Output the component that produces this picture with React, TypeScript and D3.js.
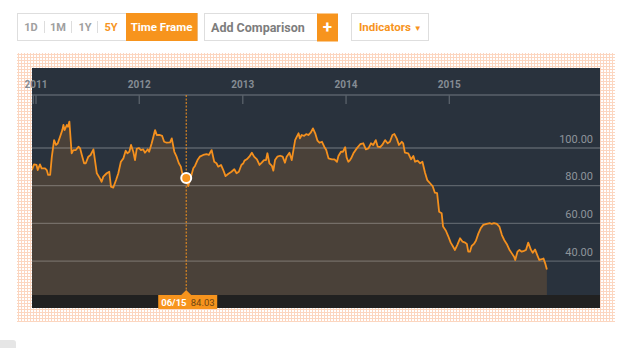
import React from "react";
import * as d3 from "d3";

const rangeButtons = ["1D", "1M", "1Y", "5Y"];
const activeRange = "5Y";
const yearTicks = ["2011", "2012", "2013", "2014", "2015"];
const priceTicks = [40, 60, 80, 100];
const hoverDate = "2012-06-15";
const hoverLabel = "06/15";

const brent: [string, number][] = [
  ["2010-12-17", 88.3], ["2010-12-25", 91.3], ["2011-01-03", 91], ["2011-01-07", 88.3], ["2011-01-15", 91.3],
  ["2011-01-21", 89.2], ["2011-02-02", 89.2], ["2011-02-08", 88.3], ["2011-02-13", 85.7], ["2011-02-20", 85.7],
  ["2011-02-26", 95.4], ["2011-03-06", 104.2], ["2011-03-13", 101.6], ["2011-03-19", 102.5], ["2011-03-27", 106],
  ["2011-04-04", 109.5], ["2011-04-08", 112.2], ["2011-04-12", 109.5], ["2011-04-20", 112.2], ["2011-04-24", 111.3],
  ["2011-04-29", 114], ["2011-05-07", 97.2], ["2011-05-13", 98.9], ["2011-05-22", 98.9], ["2011-05-31", 100.7],
  ["2011-06-06", 99.8], ["2011-06-12", 96.3], ["2011-06-20", 91.9], ["2011-06-26", 91.9], ["2011-07-05", 95.4],
  ["2011-07-13", 96.3], ["2011-07-23", 99.3], ["2011-08-04", 86.6], ["2011-08-15", 83.9], ["2011-08-21", 82.1],
  ["2011-08-27", 84.8], ["2011-09-08", 86.6], ["2011-09-17", 87.4], ["2011-09-23", 79.5], ["2011-10-01", 79],
  ["2011-10-11", 83], ["2011-10-19", 86.6], ["2011-10-28", 92.7], ["2011-11-06", 94.5], ["2011-11-14", 98.6],
  ["2011-11-20", 97.2], ["2011-11-27", 98], ["2011-12-03", 101.6], ["2011-12-11", 98], ["2011-12-17", 93.6],
  ["2011-12-23", 99.5], ["2011-12-31", 100],
  ["2012-01-07", 98.9], ["2012-01-15", 99.3], ["2012-01-21", 97.5], ["2012-01-31", 99.3], ["2012-02-05", 98],
  ["2012-02-14", 102.5], ["2012-02-20", 106], ["2012-02-26", 109.5], ["2012-03-03", 106.9], ["2012-03-14", 106.9],
  ["2012-03-22", 106.4], ["2012-03-29", 103.3], ["2012-04-07", 102.8], ["2012-04-19", 103], ["2012-04-25", 105.1],
  ["2012-05-04", 98], ["2012-05-12", 95.4], ["2012-05-20", 91.9], ["2012-05-27", 90.1], ["2012-06-01", 86.6],
  ["2012-06-08", 83.9], ["2012-06-15", 84.03], ["2012-06-22", 79.8], ["2012-07-02", 84.8], ["2012-07-10", 89.2],
  ["2012-07-16", 90.5], ["2012-07-25", 93.6], ["2012-08-02", 95.4], ["2012-08-14", 96.3], ["2012-08-26", 96.8],
  ["2012-09-03", 96.3], ["2012-09-13", 98.9], ["2012-09-22", 92.7], ["2012-09-30", 91.9], ["2012-10-06", 90.1],
  ["2012-10-16", 91], ["2012-10-24", 88.3], ["2012-11-01", 85.1], ["2012-11-10", 86.2], ["2012-11-22", 87.4],
  ["2012-12-02", 88.7], ["2012-12-10", 86.6], ["2012-12-18", 87.4], ["2012-12-27", 91],
  ["2013-01-03", 91.9], ["2013-01-07", 93.3], ["2013-01-15", 94], ["2013-01-24", 95.4], ["2013-02-02", 97.5],
  ["2013-02-10", 95.4], ["2013-02-20", 94], ["2013-03-01", 91], ["2013-03-09", 92.2], ["2013-03-17", 93.6],
  ["2013-03-24", 93.6], ["2013-03-29", 97.2], ["2013-04-05", 91.9], ["2013-04-14", 90.5], ["2013-04-19", 88],
  ["2013-04-25", 93.6], ["2013-05-03", 95.4], ["2013-05-13", 95.9], ["2013-05-22", 95.4], ["2013-05-30", 92.2],
  ["2013-06-05", 95.4], ["2013-06-15", 97.5], ["2013-06-23", 93.6], ["2013-06-29", 98.9], ["2013-07-05", 104.2],
  ["2013-07-11", 106], ["2013-07-17", 107.8], ["2013-07-22", 105.1], ["2013-07-28", 106.9], ["2013-08-06", 106.4],
  ["2013-08-13", 107.4], ["2013-08-21", 106.9], ["2013-08-29", 108.1], ["2013-09-06", 110.4], ["2013-09-14", 107.8],
  ["2013-09-22", 103.9], ["2013-09-29", 102.8], ["2013-10-08", 103.3], ["2013-10-16", 100.7], ["2013-10-23", 98.9],
  ["2013-10-31", 94.5], ["2013-11-12", 94], ["2013-11-21", 94], ["2013-11-30", 92.7], ["2013-12-05", 95.8],
  ["2013-12-14", 98], ["2013-12-21", 98], ["2013-12-29", 100.4],
  ["2014-01-03", 95], ["2014-01-09", 92.7], ["2014-01-15", 93.6], ["2014-01-19", 94.5], ["2014-01-27", 97.2],
  ["2014-02-08", 99.8], ["2014-02-20", 102], ["2014-03-03", 102.5], ["2014-03-12", 99.3], ["2014-03-21", 99.8],
  ["2014-03-30", 102.5], ["2014-04-07", 101.6], ["2014-04-16", 104.2], ["2014-04-23", 100.7], ["2014-05-01", 100.4],
  ["2014-05-09", 101.6], ["2014-05-19", 104.2], ["2014-05-28", 102.5], ["2014-06-05", 103.3], ["2014-06-14", 106.9],
  ["2014-06-21", 107.4], ["2014-06-29", 105.1], ["2014-07-07", 101.6], ["2014-07-17", 103.3], ["2014-07-22", 102.5],
  ["2014-07-28", 97.5], ["2014-08-09", 97.2], ["2014-08-19", 94], ["2014-08-27", 95.8], ["2014-09-02", 92.7],
  ["2014-09-11", 93.3], ["2014-09-20", 91.9], ["2014-09-28", 92.7], ["2014-10-07", 87], ["2014-10-15", 83],
  ["2014-10-25", 81.3], ["2014-11-03", 79.8], ["2014-11-11", 76.3], ["2014-11-19", 76], ["2014-11-26", 66.2],
  ["2014-12-05", 65.4], ["2014-12-10", 58.3], ["2014-12-20", 56.1], ["2014-12-28", 53.3],
  ["2015-01-06", 49.8], ["2015-01-13", 48], ["2015-01-21", 45.9], ["2015-01-29", 48.5], ["2015-02-08", 52.1],
  ["2015-02-17", 50.3], ["2015-02-26", 49.8], ["2015-03-04", 49.1], ["2015-03-09", 45], ["2015-03-15", 45],
  ["2015-03-21", 48], ["2015-03-29", 49.1], ["2015-04-05", 50.8], ["2015-04-14", 54.7], ["2015-04-22", 57.4],
  ["2015-05-01", 59.2], ["2015-05-13", 59.7], ["2015-05-25", 60.1], ["2015-05-31", 59.7], ["2015-06-08", 60.1],
  ["2015-06-18", 59.7], ["2015-06-27", 58.3], ["2015-07-06", 53.8], ["2015-07-14", 51.2], ["2015-07-23", 49.1],
  ["2015-08-01", 46.2], ["2015-08-10", 44.1], ["2015-08-18", 42.3], ["2015-08-22", 40.6], ["2015-08-30", 45],
  ["2015-09-06", 45.9], ["2015-09-14", 45], ["2015-09-22", 45.4], ["2015-09-29", 45.9], ["2015-10-07", 49.8],
  ["2015-10-16", 46.2], ["2015-10-23", 44.4], ["2015-10-31", 46.2], ["2015-11-08", 43.2], ["2015-11-15", 40.6],
  ["2015-11-24", 41], ["2015-11-30", 41.4], ["2015-12-06", 38.8], ["2015-12-12", 35.6],
];

const ORANGE = "#f7941d";
const FONT = "Roboto, 'Open Sans', Arial, sans-serif";

export default function App() {
  const parse = d3.timeParse("%Y-%m-%d");
  const data = brent.map(([d, v]) => ({ date: parse(d) as Date, value: v }));

  const plotLeft = 32, plotRight = 600, plotTop = 68, plotBottom = 308;
  const axisY = 95, areaBottom = 295;

  const x = d3
    .scaleTime()
    .domain([parse("2011-01-01") as Date, parse("2015-01-01") as Date])
    .range([36, 449.3]);
  const y = d3.scaleLinear().domain([40, 100]).range([261.1, 148]);

  const line = d3
    .line<{ date: Date; value: number }>()
    .x((d) => x(d.date))
    .y((d) => y(d.value));
  const area = d3
    .area<{ date: Date; value: number }>()
    .x((d) => x(d.date))
    .y0(areaBottom)
    .y1((d) => y(d.value));

  const hover = data.find((d) => d3.timeFormat("%Y-%m-%d")(d.date) === hoverDate)!;
  const hx = x(hover.date);
  const hy = y(hover.value);

  const btnX = [31, 58, 85, 111];
  const sepX = [44.5, 71.5, 97.5];

  return (
    <svg
      width={640}
      height={348}
      style={{ position: "absolute", left: 0, top: 0, display: "block", background: "#fff" }}
      fontFamily={FONT}
    >
      <defs>
        <pattern id="peach" width={3} height={3} patternUnits="userSpaceOnUse">
          <rect width={3} height={3} fill="#fff" />
          <rect width={3} height={1} fill="#fcd6c0" />
          <rect width={1} height={3} fill="#fcd6c0" />
        </pattern>
        <clipPath id="plotClip">
          <rect x={plotLeft} y={axisY} width={plotRight - plotLeft} height={areaBottom - axisY} />
        </clipPath>
      </defs>

      {/* Toolbar */}
      <rect x={17.5} y={13.5} width={180} height={27} fill="#fff" stroke="#dedede" />
      {rangeButtons.map((b, i) => (
        <text
          key={b}
          x={btnX[i]}
          y={31}
          textAnchor="middle"
          fontSize={11}
          fontWeight="bold"
          fill={b === activeRange ? ORANGE : "#a0a0a0"}
        >
          {b}
        </text>
      ))}
      {sepX.map((s) => (
        <line key={s} x1={s} x2={s} y1={21} y2={33} stroke="#dddddd" />
      ))}
      <rect x={126} y={13} width={71.5} height={28} fill={ORANGE} />
      <text x={161.5} y={31} textAnchor="middle" fontSize={11.5} fontWeight="bold" fill="#fff">
        Time Frame
      </text>

      <rect x={204.5} y={13.5} width={113} height={27} fill="#fff" stroke="#dedede" />
      <text x={211} y={31.5} fontSize={12.5} fontWeight="bold" fill="#7d7d7d">
        Add Comparison
      </text>
      <rect x={317} y={13.5} width={21} height={28} fill={ORANGE} />
      <text x={327.5} y={33} textAnchor="middle" fontSize={17} fontWeight="bold" fill="#fff">
        +
      </text>

      <rect x={351.5} y={13.5} width={77} height={27} fill="#fff" stroke="#dedede" />
      <text x={359} y={31} fontSize={11.5} fontWeight="bold" fill={ORANGE}>
        Indicators <tspan fontSize={8}>▼</tspan>
      </text>

      {/* Patterned frame */}
      <rect x={17} y={53} width={598} height={269} fill="url(#peach)" />

      {/* Plot */}
      <rect x={plotLeft} y={plotTop} width={plotRight - plotLeft} height={plotBottom - plotTop} fill="#29323d" />
      <g clipPath="url(#plotClip)">
        <path d={area(data) || ""} fill="#4a4139" />
      </g>
      {priceTicks.map((t) => (
        <line
          key={t}
          x1={plotLeft}
          x2={plotRight}
          y1={y(t)}
          y2={y(t)}
          stroke="#ffffff"
          strokeOpacity={0.24}
          strokeWidth={1.3}
        />
      ))}
      {priceTicks.map((t) => (
        <text key={"l" + t} x={593} y={y(t) - 5.5} textAnchor="end" fontSize={11} fill="#8e949b">
          {d3.format(".2f")(t)}
        </text>
      ))}
      <g clipPath="url(#plotClip)">
        <path d={line(data) || ""} fill="none" stroke="#f4901e" strokeWidth={1.8} strokeLinejoin="round" />
      </g>

      {/* Top time axis */}
      <line x1={plotLeft} x2={plotRight} y1={axisY} y2={axisY} stroke="#5a626b" strokeWidth={1.5} />
      <line x1={33.3} x2={33.3} y1={axisY} y2={axisY + 9} stroke="#5a626b" strokeWidth={1.3} />
      {yearTicks.map((yr) => {
        const tx = x(parse(`${yr}-01-01`) as Date);
        return (
          <g key={yr}>
            <line x1={tx} x2={tx} y1={axisY} y2={axisY + 9} stroke="#5a626b" strokeWidth={1.3} />
            <text x={tx} y={88} textAnchor="middle" fontSize={10} fontWeight="bold" fill="#858c94">
              {yr}
            </text>
          </g>
        );
      })}

      {/* Bottom band */}
      <rect x={plotLeft} y={areaBottom} width={plotRight - plotLeft} height={plotBottom - areaBottom} fill="#212121" />

      {/* Hover crosshair */}
      <line x1={hx} x2={hx} y1={axisY} y2={290} stroke={ORANGE} strokeWidth={1} strokeDasharray="2,1.5" />
      <circle cx={hx} cy={hy} r={5} fill={ORANGE} stroke="#fff" strokeWidth={2} />
      <path d={`M${hx - 5},295 L${hx},290 L${hx + 5},295 Z`} fill={ORANGE} />
      <rect x={hx - 28} y={295} width={59} height={14} fill={ORANGE} />
      <text x={hx - 25} y={306} fontSize={9.5} fontWeight="bold" fill="#fff">
        {hoverLabel}
      </text>
      <text x={hx + 4.5} y={306} fontSize={9.5} fill="#6e4515">
        {d3.format(".2f")(hover.value)}
      </text>

      <rect x={-4} y={340} width={20} height={12} rx={3} fill="#e6e6e6" />
    </svg>
  );
}
